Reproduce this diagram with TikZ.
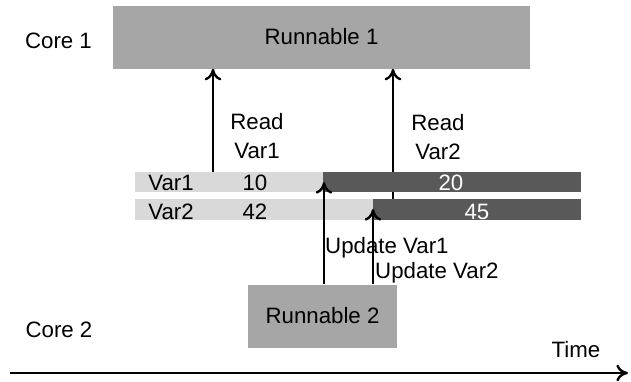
\documentclass[tikz,border=0pt]{standalone}
\usepackage{fontspec}
\setmainfont{Liberation Sans}
\usetikzlibrary{arrows.meta}

\definecolor{runfill}{HTML}{A6A6A6}
\definecolor{oldval}{HTML}{D9D9D9}
\definecolor{newval}{HTML}{595959}

\tikzset{
  lbl/.style={font=\fontsize{19}{24}\selectfont, inner sep=0pt},
  runbox/.style={fill=runfill, lbl, inner sep=0pt},
  flow/.style={-{To[length=3.5mm,width=5mm]}, line width=2pt},
}

\begin{document}
\begin{tikzpicture}[x=0.03cm,y=-0.03cm]

\useasboundingbox (0,0) rectangle (631,381);

\node [lbl, anchor=base] (core1) at (58.5,48) {Core 1};
\node [lbl, anchor=base] (core2) at (59,337) {Core 2};

\node [runbox, minimum width=12.51cm, minimum height=1.89cm] (run1) at (321.5,37) {Runnable 1};
\node [runbox, minimum width=4.47cm, minimum height=1.89cm] (run2) at (322.5,316) {Runnable 2};

% read access of Runnable 1
\coordinate (rd1) at (213,172);
\coordinate (rd2) at (393,199);
\draw [flow] (rd1) -- (run1.south -| rd1);
\draw [flow] (rd2) -- (run1.south -| rd2);

\node [lbl, align=center] (readA) at (257,136) {Read\\Var1};
\node [lbl, align=center] (readB) at (438,137) {Read\\Var2};

% variable buffers
\fill [color=oldval] (135,172) rectangle (323,192);
\fill [color=newval] (323,172) rectangle (581,192);
\fill [color=oldval] (135,199) rectangle (373,220);
\fill [color=newval] (373,199) rectangle (581,220);

\node [lbl, anchor=base] (v1) at (171,190.5) {Var1};
\node [lbl, anchor=base] (v1old) at (255,190.5) {10};
\node [lbl, anchor=base, color=white] (v1new) at (451,190.5) {20};
\node [lbl, anchor=base] (v2) at (171,219) {Var2};
\node [lbl, anchor=base] (v2old) at (255,219) {42};
\node [lbl, anchor=base, color=white] (v2new) at (477,219) {45};

% write access of Runnable 2
\coordinate (wr1) at (324,182);
\coordinate (wr2) at (373,209);
\draw [flow] (run2.north -| wr1) -- (wr1);
\draw [flow] (run2.north -| wr2) -- (wr2);

\node [lbl, anchor=base west] (upA) at (325,253) {Update Var1};
\node [lbl, anchor=base west] (upB) at (375,278) {Update Var2};

% time axis
\coordinate (t0) at (10,373);
\coordinate (t1) at (628,373);
\draw [flow] (t0) -- (t1);
\node [lbl, anchor=base] (time) at (576,357) {Time};

\end{tikzpicture}
\end{document}
